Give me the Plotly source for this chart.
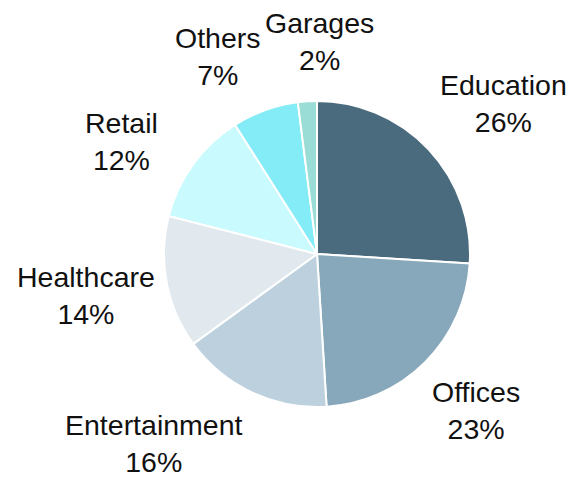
import math
import plotly.graph_objects as go

categories = ["Education", "Offices", "Entertainment", "Healthcare", "Retail", "Others", "Garages"]
shares = [26, 23, 16, 14, 12, 7, 2]
colors = ["#4A6B7D", "#87A8BA", "#BCD1DD", "#E1E9EE", "#C9FAFD", "#84ECF6", "#9ADCD6"]

# label placement nudges (pixels, screen x right / y down) relative to a radial base position
label_nudge = [(22, 4), (0, -3), (-67, -14), (-10, -1), (-13, 20), (-23, 14), (17, 12)]

W, H = 572, 477
cx_px, cy_px, R = 317, 254, 153
base_dist = 225

fig = go.Figure(go.Pie(
    labels=categories,
    values=shares,
    sort=False,
    direction="clockwise",
    rotation=0,
    marker=dict(colors=colors, line=dict(color="white", width=2)),
    textinfo="none",
    hoverinfo="label+percent",
    domain=dict(x=[(cx_px - R) / W, (cx_px + R) / W],
                y=[(H - cy_px - R) / H, (H - cy_px + R) / H]),
    showlegend=False,
))

total = sum(shares)
cum = 0
annotations = []
for cat, v, (nx, ny) in zip(categories, shares, label_nudge):
    mid = (cum + v / 2) / total * 2 * math.pi
    cum += v
    px = cx_px + base_dist * math.sin(mid) + nx
    py = cy_px - base_dist * math.cos(mid) + ny
    annotations.append(dict(
        x=px / W, y=1 - py / H, xref="paper", yref="paper",
        text=f"{cat}<br>{round(v / total * 100)}%",
        showarrow=False, xanchor="center", yanchor="middle",
        font=dict(family="Liberation Sans, Arial, sans-serif", size=28.5, color="#111111"),
        align="center",
    ))

fig.update_layout(
    width=W, height=H,
    margin=dict(l=0, r=0, t=0, b=0),
    paper_bgcolor="white", plot_bgcolor="white",
    annotations=annotations,
)

fig.write_html(
    "out.html",
    config={"displayModeBar": False},
    post_script="document.body.style.margin='0';document.body.style.overflow='hidden';",
)
